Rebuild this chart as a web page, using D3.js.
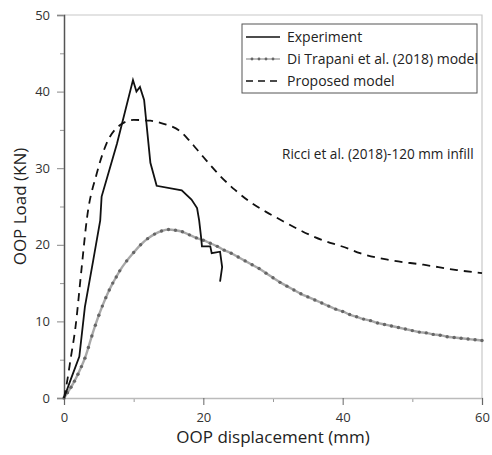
<!DOCTYPE html>
<html>
<head>
<meta charset="utf-8">
<script src="https://cdn.jsdelivr.net/npm/d3@7"></script>
<style>
  body { margin: 0; background: #fff; }
  text { font-family: "Open Sans", sans-serif; fill: #222; }
</style>
</head>
<body>
<div id="chart"></div>
<script>
// experiment (solid)
var expX = [0, 1, 2.2, 3.0, 4.2, 5.2, 5.4, 7.6, 9.9, 10.4, 10.9, 11.5, 12.4, 13.3, 16.9, 18.3, 19.1, 19.4, 19.7, 19.8, 21.0, 21.2, 22.4, 22.7, 22.4];
var expY = [0, 2.5, 5.4, 11.9, 18.0, 23.2, 26.3, 33.2, 41.5, 40.0, 40.6, 38.9, 30.7, 27.7, 27.1, 25.9, 24.8, 23.2, 20.8, 19.8, 19.8, 18.9, 19.1, 17.1, 15.2];

// Di Trapani et al. (2018) model
var dtX = [0, 0.5, 1, 1.5, 2, 2.5, 3, 3.5, 4, 4.5, 5, 5.5, 6, 6.5, 7, 7.5, 8, 9, 10, 11, 12, 13, 14, 15, 16, 17, 18, 19, 20,
           21, 22, 23, 24, 25, 26, 27, 28, 29, 30, 31, 32, 33, 34, 35, 36, 37, 38, 39, 40,
           41, 42, 43, 44, 45, 46, 47, 48, 49, 50, 51, 52, 53, 54, 55, 56, 57, 58, 59, 60];
var dtY = [0, 0.7, 1.4, 2.2, 3.1, 4.1, 5.2, 6.6, 8.1, 9.5, 10.8, 12.0, 13.1, 14.1, 15.0, 15.8, 16.6, 17.9, 19.0, 20.0, 20.8, 21.4, 21.8, 22.0, 21.9, 21.7, 21.3, 20.9, 20.6,
           20.2, 19.8, 19.3, 18.9, 18.4, 17.9, 17.4, 16.9, 16.3, 15.7, 15.1, 14.6, 14.1, 13.6, 13.2, 12.8, 12.4, 12.0, 11.6, 11.3,
           10.9, 10.6, 10.3, 10.1, 9.8, 9.6, 9.4, 9.2, 9.0, 8.8, 8.6, 8.5, 8.3, 8.2, 8.0, 7.9, 7.8, 7.7, 7.6, 7.5];

// proposed model (dashed)
var prX = [0, 0.4, 1.0, 1.6, 2.5, 3.3, 4.7, 6.1, 8.0, 10.0, 12.4, 14.3, 16.7, 18.0, 19.5, 21.0, 22.4, 24.5, 26.7, 29.0, 31.0, 33.9, 36.0, 40.8, 42.5, 46.8, 51.6, 56.4, 60];
var prY = [0, 1.9, 5.4, 8.9, 16.7, 23.5, 29.3, 33.2, 35.6, 36.3, 36.2, 35.8, 34.8, 33.6, 32.0, 30.4, 29.0, 27.2, 25.6, 24.3, 23.3, 21.9, 21.0, 19.5, 18.9, 18.0, 17.4, 16.7, 16.3];

var xTicks = [0, 20, 40, 60];
var yTicks = [0, 10, 20, 30, 40, 50];
var legendLabels = ['Experiment', 'Di Trapani et al. (2018) model', 'Proposed model'];

var svgWidth = 492;
var svgHeight = 455;
var margin = {top: 15, right: 10, bottom: 57, left: 64};
var width = svgWidth - margin.left - margin.right;
var height = svgHeight - margin.top - margin.bottom;

var svg = d3.select('#chart')
            .append('svg')
            .attr('width', svgWidth)
            .attr('height', svgHeight);

var chartGroup = svg.append('g')
                    .attr('transform', `translate(${margin.left}, ${margin.top})`);

var xScale = d3.scaleLinear().domain([0, 60]).range([0, width]);
var yScale = d3.scaleLinear().domain([0, 50]).range([height, 0]);

// frame (top + right)
chartGroup.append('path')
          .attr('d', `M0,0 H${width} V${height}`)
          .attr('fill', 'none')
          .attr('stroke', '#c8c8c8')
          .attr('stroke-width', 1.2);

// minor ticks
chartGroup.append('g')
          .attr('transform', `translate(0, ${height})`)
          .call(d3.axisBottom(xScale).tickValues([10, 30, 50]).tickSize(4).tickFormat(''))
          .call(g => g.select('.domain').remove())
          .selectAll('line').attr('stroke', '#999');
chartGroup.append('g')
          .call(d3.axisLeft(yScale).tickValues([5, 15, 25, 35, 45]).tickSize(4).tickFormat(''))
          .call(g => g.select('.domain').remove())
          .selectAll('line').attr('stroke', '#999');

var xAxis = chartGroup.append('g')
          .attr('transform', `translate(0, ${height})`)
          .call(d3.axisBottom(xScale).tickValues(xTicks).tickSize(7).tickPadding(8));
xAxis.select('.domain').attr('stroke', '#bbb').attr('stroke-width', 1.5);
xAxis.selectAll('line').attr('stroke', '#666');
xAxis.selectAll('text').attr('font-size', 13).style('fill', '#333');

var yAxis = chartGroup.append('g')
          .call(d3.axisLeft(yScale).tickValues(yTicks).tickSize(7).tickPadding(7));
yAxis.select('.domain').attr('stroke', '#555').attr('stroke-width', 1.5);
yAxis.selectAll('line').attr('stroke', '#888');
yAxis.selectAll('text').attr('font-size', 13).style('fill', '#333');

var dtData = dtX.map((x, i) => ({x: x, y: dtY[i]}));
var prData = prX.map((x, i) => ({x: x, y: prY[i]}));
var expData = expX.map((x, i) => ({x: x, y: expY[i]}));

var smooth = d3.line().x(d => xScale(d.x)).y(d => yScale(d.y)).curve(d3.curveMonotoneX);
var straight = d3.line().x(d => xScale(d.x)).y(d => yScale(d.y));

chartGroup.append('path')
          .datum(dtData)
          .attr('d', smooth)
          .attr('fill', 'none')
          .attr('stroke', '#a8a8a8')
          .attr('stroke-width', 2.4);

chartGroup.selectAll('.dt-dot')
          .data(dtData)
          .enter()
          .append('circle')
          .attr('class', 'dt-dot')
          .attr('cx', d => xScale(d.x))
          .attr('cy', d => yScale(d.y))
          .attr('r', 1.7)
          .attr('fill', '#666');

chartGroup.append('path')
          .datum(prData)
          .attr('d', smooth)
          .attr('fill', 'none')
          .attr('stroke', '#111')
          .attr('stroke-width', 1.8)
          .attr('stroke-dasharray', '8,6');

chartGroup.append('path')
          .datum(expData)
          .attr('d', straight)
          .attr('fill', 'none')
          .attr('stroke', '#111')
          .attr('stroke-width', 1.8)
          .attr('stroke-linejoin', 'miter');

// axis titles
chartGroup.append('text')
          .attr('transform', 'rotate(-90)')
          .attr('x', 0 - height / 2)
          .attr('y', 0 - margin.left + 26)
          .attr('text-anchor', 'middle')
          .attr('font-size', 17)
          .text('OOP Load (KN)');

chartGroup.append('text')
          .attr('x', width / 2)
          .attr('y', height + 45)
          .attr('text-anchor', 'middle')
          .attr('font-size', 17)
          .text('OOP displacement (mm)');

// annotation
chartGroup.append('text')
          .attr('x', xScale(31.3))
          .attr('y', yScale(31.2))
          .attr('font-size', 13.6)
          .text('Ricci et al. (2018)-120 mm infill');

// legend
var legend = svg.append('g').attr('transform', 'translate(242, 24)');
legend.append('rect')
      .attr('width', 235)
      .attr('height', 69)
      .attr('fill', '#fff')
      .attr('stroke', '#555')
      .attr('stroke-width', 1);

var rows = legend.selectAll('.row')
                 .data(legendLabels)
                 .enter()
                 .append('g')
                 .attr('transform', (d, i) => `translate(0, ${13 + i * 22})`);

rows.append('line')
    .attr('x1', 4).attr('x2', 38)
    .attr('stroke', (d, i) => i === 1 ? '#a8a8a8' : '#111')
    .attr('stroke-width', 1.6)
    .attr('stroke-dasharray', (d, i) => i === 2 ? '7,5' : null);

rows.filter((d, i) => i === 1)
    .selectAll('circle')
    .data([10, 17, 24, 31])
    .enter()
    .append('circle')
    .attr('cx', d => d)
    .attr('r', 1.4)
    .attr('fill', '#666');

rows.append('text')
    .attr('x', 45)
    .attr('dy', '0.35em')
    .attr('font-size', 14)
    .text(d => d);
</script>
</body>
</html>
